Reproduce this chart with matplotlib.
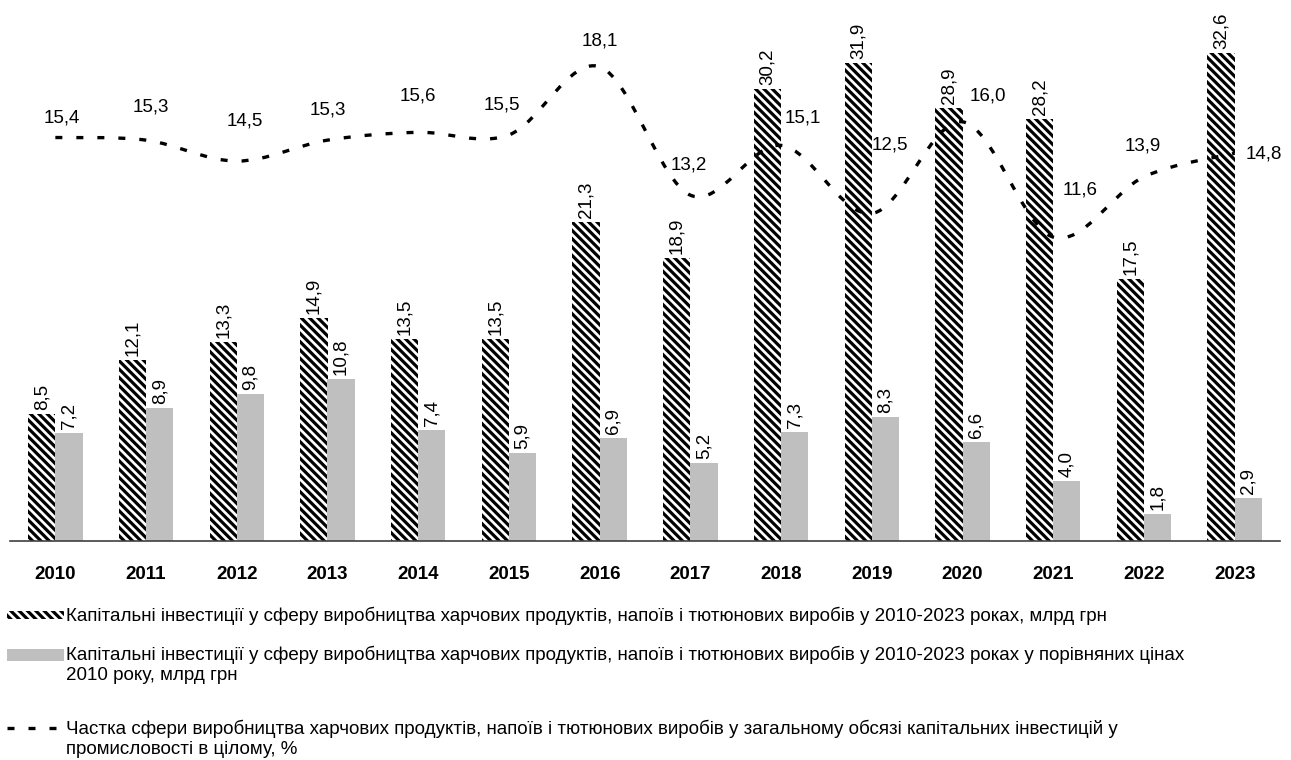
import matplotlib
matplotlib.use("Agg")
import matplotlib.pyplot as plt
from matplotlib.patches import Rectangle, PathPatch
from matplotlib.path import Path
from matplotlib.lines import Line2D
import numpy as np

plt.rcParams['font.family'] = ['Liberation Sans', 'DejaVu Sans']
plt.rcParams['hatch.linewidth'] = 2.3

years = ["2010", "2011", "2012", "2013", "2014", "2015", "2016", "2017",
         "2018", "2019", "2020", "2021", "2022", "2023"]
invest_nominal = [8.5, 12.1, 13.3, 14.9, 13.5, 13.5, 21.3, 18.9, 30.2, 31.9, 28.9, 28.2, 17.5, 32.6]
invest_real = [7.2, 8.9, 9.8, 10.8, 7.4, 5.9, 6.9, 5.2, 7.3, 8.3, 6.6, 4.0, 1.8, 2.9]
share_pct = [15.4, 15.3, 14.5, 15.3, 15.6, 15.5, 18.1, 13.2, 15.1, 12.5, 16.0, 11.6, 13.9, 14.8]

legend_labels = [
    "Капітальні інвестиції у сферу виробництва харчових продуктів, напоїв і тютюнових виробів у 2010-2023 роках, млрд грн",
    "Капітальні інвестиції у сферу виробництва харчових продуктів, напоїв і тютюнових виробів у 2010-2023 роках у порівняних цінах\n2010 року, млрд грн",
    "Частка сфери виробництва харчових продуктів, напоїв і тютюнових виробів у загальному обсязі капітальних інвестицій у\nпромисловості в цілому, %",
]

# label offsets for line values (pixels)
share_label_offsets = [(6, 20), (5, 33), (8, 40), (0, 30), (0, 36), (-7, 30), (0, 26),
                       (-2, 30), (22, 27), (18, 69), (25, 26), (27, 47), (-1, 31), (29, -1)]

FS = 13.5
W, H = 1291, 760
fig = plt.figure(figsize=(W / 100, H / 100), dpi=100)

ax_left, ax_right, ax_bottom, ax_top = 10, 1280, 541, 17
ax = fig.add_axes([ax_left / W, 1 - ax_bottom / H, (ax_right - ax_left) / W, (ax_bottom - ax_top) / H])
ax2 = ax.twinx()

n = len(years)
x = np.arange(n)
bw = 0.30
HATCH = '\\' * 4

ax.bar(x - bw / 2, invest_nominal, width=bw, facecolor='white', edgecolor='black',
       hatch=HATCH, linewidth=0, zorder=2)
ax.bar(x + bw / 2, invest_real, width=bw, color='#BFBFBF', linewidth=0, zorder=2)

for xi, v in zip(x, invest_nominal):
    ax.annotate(f"{v:.1f}".replace('.', ','), (xi - bw / 2, v), xytext=(0, 4),
                textcoords='offset pixels', rotation=90, ha='center', va='bottom', fontsize=FS)
for xi, v in zip(x, invest_real):
    ax.annotate(f"{v:.1f}".replace('.', ','), (xi + bw / 2, v), xytext=(0, 4),
                textcoords='offset pixels', rotation=90, ha='center', va='bottom', fontsize=FS)

ax.set_xlim(-0.5, n - 0.5)
ax.set_ylim(0, 35)
ax2.set_ylim(0, 20)

# smoothed line (Catmull-Rom -> cubic Bezier through the data points)
pts = np.column_stack([x.astype(float), np.array(share_pct, dtype=float)])
verts = [tuple(pts[0])]
codes = [Path.MOVETO]
for i in range(n - 1):
    p0 = pts[i - 1] if i > 0 else pts[i]
    p1 = pts[i]
    p2 = pts[i + 1]
    p3 = pts[i + 2] if i + 2 < n else pts[i + 1]
    c1 = p1 + (p2 - p0) / 6.0
    c2 = p2 - (p3 - p1) / 6.0
    verts += [tuple(c1), tuple(c2), tuple(p2)]
    codes += [Path.CURVE4] * 3
path = Path(verts, codes)
dash = (0, (2.1, 4.2))
patch = PathPatch(path, fill=False, edgecolor='black', linewidth=2.4, linestyle=dash,
                  capstyle='butt', zorder=5)
ax2.add_patch(patch)

for xi, v, off in zip(x, share_pct, share_label_offsets):
    ax2.annotate(f"{v:.1f}".replace('.', ','), (xi, v), xytext=off,
                 textcoords='offset pixels', ha='center', va='center', fontsize=FS)

for a in (ax, ax2):
    for s in ('top', 'right', 'left'):
        a.spines[s].set_visible(False)
    a.set_yticks([])
ax2.spines['bottom'].set_visible(False)
ax.spines['bottom'].set_color('#404040')
ax.spines['bottom'].set_linewidth(1.2)
ax.set_xticks(x)
ax.set_xticklabels(years, fontsize=FS, fontweight='bold')
ax.tick_params(axis='x', length=0, pad=18)

# legend drawn in pixel coordinates
lg = fig.add_axes([0, 0, 1, 1], zorder=-1)
lg.set_xlim(0, W)
lg.set_ylim(H, 0)
lg.axis('off')
lg.add_patch(Rectangle((7, 611), 57, 8, facecolor='white', edgecolor='black',
                       hatch=HATCH, linewidth=0))
lg.text(66, 616, legend_labels[0], fontsize=FS, ha='left', va='center')
lg.add_patch(Rectangle((7, 649), 57, 12, facecolor='#BFBFBF', linewidth=0))
lg.text(66, 665, legend_labels[1], fontsize=FS, ha='left', va='center', linespacing=1.2)
lg.add_line(Line2D([7, 57], [728, 728], color='black', linewidth=2.4, linestyle=dash,
                   solid_capstyle='butt', dash_capstyle='butt'))
lg.text(66, 739, legend_labels[2], fontsize=FS, ha='left', va='center', linespacing=1.2)

fig.savefig("out.png", dpi=100)
